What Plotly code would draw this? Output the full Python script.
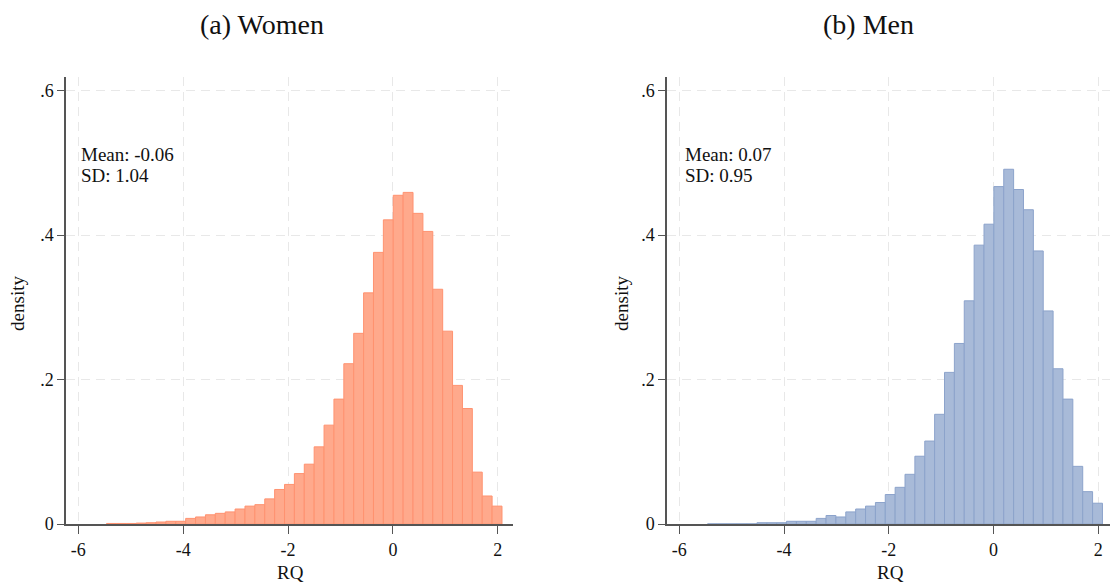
import plotly.graph_objects as go

# ---- data ----
bin_start = -5.46
bin_width = 0.1885
n_bins = 40

women_density = [0.001, 0.001, 0.001, 0.0015, 0.002, 0.003, 0.004, 0.004, 0.008, 0.010,
                 0.013, 0.015, 0.017, 0.021, 0.025, 0.027, 0.035, 0.048, 0.055, 0.070,
                 0.083, 0.107, 0.137, 0.173, 0.222, 0.264, 0.320, 0.376, 0.421, 0.455,
                 0.459, 0.430, 0.405, 0.325, 0.267, 0.192, 0.160, 0.072, 0.039, 0.025]

men_density = [0.0005, 0.0005, 0.0005, 0.0005, 0.0005, 0.002, 0.002, 0.002, 0.004, 0.004,
               0.004, 0.008, 0.012, 0.010, 0.017, 0.021, 0.025, 0.030, 0.041, 0.051,
               0.069, 0.094, 0.115, 0.152, 0.210, 0.250, 0.309, 0.386, 0.415, 0.467,
               0.491, 0.463, 0.435, 0.378, 0.295, 0.215, 0.173, 0.080, 0.045, 0.029]

x_ticks = [-6, -4, -2, 0, 2]
x_tick_labels = ["-6", "-4", "-2", "0", "2"]
y_ticks = [0, 0.2, 0.4, 0.6]
y_tick_labels = ["0", ".2", ".4", ".6"]

panel_titles = ["(a) Women", "(b) Men"]
stats_women = ["Mean: -0.06", "SD: 1.04"]
stats_men = ["Mean: 0.07", "SD: 0.95"]

centers = [bin_start + bin_width * (i + 0.5) for i in range(n_bins)]

W, H = 1110, 586
HE = 578  # effective rendered height observed
FONT = "Liberation Serif"

fig = go.Figure()
fig.add_trace(go.Bar(x=centers, y=women_density, width=bin_width,
                     marker=dict(color="#FFA98C", line=dict(color="#FF9270", width=1)),
                     xaxis="x", yaxis="y", showlegend=False, hoverinfo="skip"))
fig.add_trace(go.Bar(x=centers, y=men_density, width=bin_width,
                     marker=dict(color="#A8BAD8", line=dict(color="#8CA3CB", width=1)),
                     xaxis="x2", yaxis="y2", showlegend=False, hoverinfo="skip"))

def px_x(p):
    return p / W

def px_y(p):
    return (HE - p) / HE

ydom = [px_y(526), px_y(77)]

common_x = dict(tickvals=x_ticks, ticktext=x_tick_labels, ticks="outside", ticklen=8,
                tickwidth=1.2, tickcolor="#555555", showline=True, linecolor="#555555",
                linewidth=1.5, showgrid=True, gridcolor="#E8E8E8", gridwidth=1,
                griddash="9px,6px", zeroline=False, fixedrange=True,
                tickfont=dict(family=FONT, size=18, color="#111111"))
common_y = dict(tickvals=y_ticks, ticktext=y_tick_labels, ticks="outside", ticklen=7,
                tickwidth=1.2, tickcolor="#555555", showline=True, linecolor="#555555",
                linewidth=1.5, showgrid=True, gridcolor="#E8E8E8", gridwidth=1,
                griddash="9px,6px", zeroline=False, range=[0, 0.619], domain=ydom,
                fixedrange=True, tickfont=dict(family=FONT, size=18, color="#111111"))

fig.update_layout(
    width=W, height=H,
    margin=dict(l=0, r=0, t=0, b=0),
    paper_bgcolor="white", plot_bgcolor="white",
    barmode="overlay",
    xaxis=dict(domain=[px_x(66), px_x(513)], range=[-6.234, 2.29], anchor="y", **common_x),
    yaxis=dict(anchor="x", **common_y),
    xaxis2=dict(domain=[px_x(667), 1.0], range=[-6.235, 2.224], anchor="y2", **common_x),
    yaxis2=dict(anchor="x2", **common_y),
)

def text_ann(t, x, y, size, **kw):
    d = dict(text=t, x=px_x(x), y=px_y(y), xref="paper", yref="paper",
             xanchor="center", yanchor="middle", showarrow=False,
             font=dict(family=FONT, size=size, color="#111111"))
    d.update(kw)
    return d

ann = []
ann.append(text_ann(panel_titles[0], 262, 25, 28))
ann.append(text_ann(panel_titles[1], 868, 25, 28))
for xc in [290, 890]:
    ann.append(text_ann("RQ", xc, 574, 19))
for xc in [18, 622]:
    ann.append(text_ann("density", xc, 305, 19, textangle=-90))
for xl, lines in [(79, stats_women), (683, stats_men)]:
    for i, t in enumerate(lines):
        ann.append(text_ann(t, xl, 155 + 21 * i, 19, xanchor="left"))
fig.update_layout(annotations=ann)

fig.write_html("out.html", config={"displayModeBar": False},
               post_script="document.body.style.margin='0';")
